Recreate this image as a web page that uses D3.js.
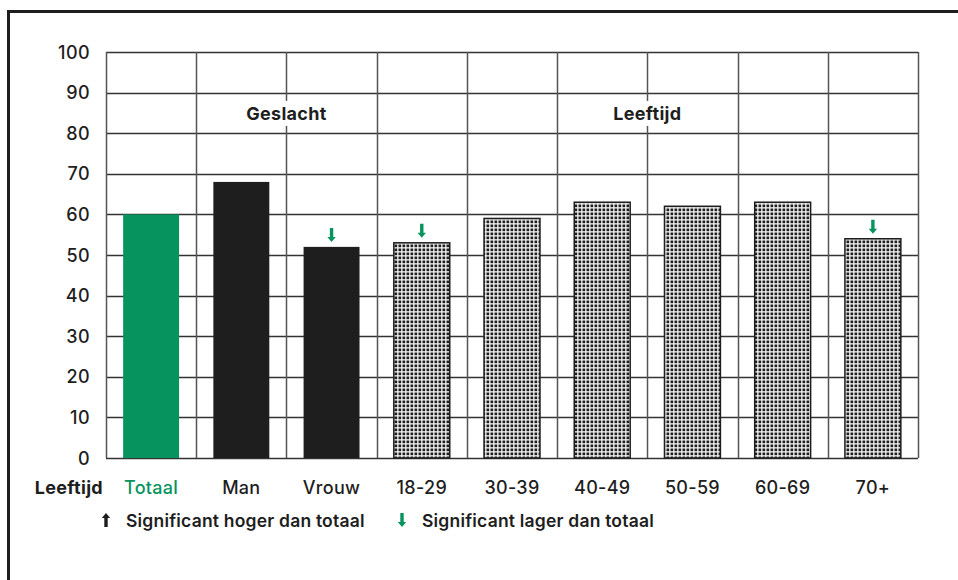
<!DOCTYPE html>
<html>
<head>
<meta charset="utf-8">
<script src="https://cdn.jsdelivr.net/npm/d3@7"></script>
<style>
  body { margin: 0; background: #fff; }
  svg { display: block; font-family: Inter, "Noto Sans", sans-serif; }
</style>
</head>
<body>
<script>
const categories = ["Totaal", "Man", "Vrouw", "18-29", "30-39", "40-49", "50-59", "60-69", "70+"];
const values = [60, 68, 52, 53, 59, 63, 62, 63, 54];
const kinds = ["total", "gender", "gender", "age", "age", "age", "age", "age", "age"];
const significance = [0, 0, -1, -1, 0, 0, 0, 0, -1];
const yTicks = [0, 10, 20, 30, 40, 50, 60, 70, 80, 90, 100];
const groups = [
    { label: "Geslacht", from: "Man", to: "Vrouw" },
    { label: "Leeftijd", from: "18-29", to: "70+" }
];

const green = "#07935e", dark = "#1e1e1e";
const margin = { top: 52, right: 40, bottom: 122, left: 106 },
    width = 918 - margin.left,
    height = 458 - margin.top;

const root = d3.select("body").append("svg")
    .attr("width", 958)
    .attr("height", 580);

// outer frame, runs off the right and bottom edge
root.append("rect")
    .attr("x", 8.5).attr("y", 11.5)
    .attr("width", 1000).attr("height", 700)
    .attr("fill", "none").attr("stroke", dark).attr("stroke-width", 3);

const defs = root.append("defs");
const pat = defs.append("pattern")
    .attr("id", "dots")
    .attr("patternUnits", "userSpaceOnUse")
    .attr("width", 4).attr("height", 4);
pat.append("rect").attr("width", 4).attr("height", 4).attr("fill", "#f6f6f6");
pat.append("rect").attr("x", 0.5).attr("y", 0.5).attr("width", 2.7).attr("height", 2.7).attr("fill", dark);

const svg = root.append("g")
    .attr("transform", `translate(${margin.left},${margin.top})`);

const x = d3.scaleBand().domain(categories).range([0, width]).paddingInner(0).paddingOuter(0);
const y = d3.scaleLinear().domain([0, 100]).range([height, 0]);
const barW = x.bandwidth() * 0.62;

// horizontal grid
svg.append("g").selectAll("line")
    .data(yTicks)
    .join("line")
    .attr("x1", 0).attr("x2", width)
    .attr("y1", d => Math.round(y(d)) + 0.5).attr("y2", d => Math.round(y(d)) + 0.5)
    .attr("stroke", "#333").attr("stroke-width", 1.5);

// vertical grid
svg.append("g").selectAll("line")
    .data(d3.range(categories.length + 1))
    .join("line")
    .attr("x1", i => Math.round(i * x.step()) + 0.5).attr("x2", i => Math.round(i * x.step()) + 0.5)
    .attr("y1", 0).attr("y2", height)
    .attr("stroke", "#555").attr("stroke-width", 1.5);

// group labels with white knockout
groups.forEach(g => {
    const cx = (x(g.from) + x(g.to) + x.bandwidth()) / 2;
    const t = svg.append("text")
        .attr("x", cx).attr("y", y(85) + 7)
        .attr("text-anchor", "middle")
        .attr("font-size", 18).attr("font-weight", 700)
        .attr("letter-spacing", 0.3)
        .attr("fill", dark)
        .text(g.label);
    const b = t.node().getBBox();
    svg.insert("rect", "text")
        .attr("x", b.x - 3).attr("y", b.y - 2)
        .attr("width", b.width + 6).attr("height", b.height + 4)
        .attr("fill", "#fff");
});

// bars
svg.append("g").selectAll("rect")
    .data(categories)
    .join("rect")
    .attr("x", (d, i) => x(d) + (x.bandwidth() - barW) / 2)
    .attr("y", (d, i) => y(values[i]))
    .attr("width", barW)
    .attr("height", (d, i) => height - y(values[i]))
    .attr("fill", (d, i) => kinds[i] === "total" ? green : kinds[i] === "gender" ? dark : "url(#dots)")
    .attr("stroke", (d, i) => kinds[i] === "age" ? dark : "none")
    .attr("stroke-width", 1.5);

// significance arrows
const arrowDown = "M-1.7,-14 L1.7,-14 L1.7,-5 L4.2,-5 L0,0 L-4.2,-5 L-1.7,-5 Z";
svg.append("g").selectAll("path")
    .data(categories.filter((d, i) => significance[i] !== 0))
    .join("path")
    .attr("transform", d => {
        const i = categories.indexOf(d);
        return `translate(${x(d) + x.bandwidth() / 2},${y(values[i]) - 5})`;
    })
    .attr("d", arrowDown)
    .attr("fill", green);

// y axis labels
svg.append("g").selectAll("text")
    .data(yTicks)
    .join("text")
    .attr("x", -16).attr("y", d => y(d) + 6.5)
    .attr("text-anchor", "end")
    .attr("font-size", 18).attr("font-weight", 500)
    .attr("letter-spacing", 0.4)
    .attr("fill", dark)
    .text(d => d);

// x labels
svg.append("g").selectAll("text")
    .data(categories)
    .join("text")
    .attr("x", d => x(d) + x.bandwidth() / 2)
    .attr("y", height + 36)
    .attr("text-anchor", "middle")
    .attr("font-size", 18).attr("font-weight", 500)
    .attr("letter-spacing", 0.3)
    .attr("fill", (d, i) => kinds[i] === "total" ? green : dark)
    .text(d => d);

svg.append("text")
    .attr("x", -3).attr("y", height + 36)
    .attr("text-anchor", "end")
    .attr("font-size", 18).attr("font-weight", 700)
    .attr("letter-spacing", 0.3)
    .attr("fill", dark)
    .text("Leeftijd");

// legend
const legend = svg.append("g").attr("transform", `translate(0,${height + 69})`);
legend.append("path")
    .attr("transform", "translate(0,-14) rotate(180)")
    .attr("d", arrowDown)
    .attr("fill", dark);
legend.append("text")
    .attr("x", 20).attr("y", 0)
    .attr("font-size", 17.5).attr("font-weight", 600)
    .attr("letter-spacing", 0.2)
    .attr("fill", dark)
    .text("Significant hoger dan totaal");
legend.append("path")
    .attr("transform", "translate(296,0)")
    .attr("d", arrowDown)
    .attr("fill", green);
legend.append("text")
    .attr("x", 316).attr("y", 0)
    .attr("font-size", 17.5).attr("font-weight", 600)
    .attr("letter-spacing", 0.2)
    .attr("fill", dark)
    .text("Significant lager dan totaal");
</script>
</body>
</html>
